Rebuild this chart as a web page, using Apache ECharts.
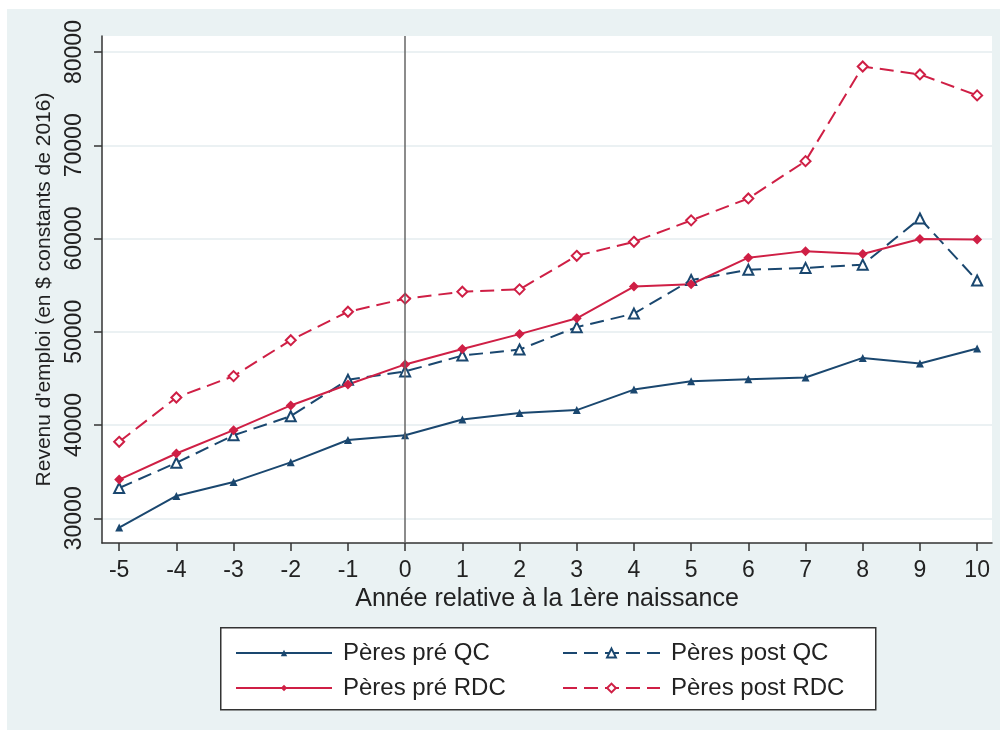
<!DOCTYPE html>
<html>
<head>
<meta charset="utf-8">
<script src="https://cdn.jsdelivr.net/npm/echarts@6/dist/echarts.min.js"></script>
<style>
html,body{margin:0;padding:0;background:#fff;}
#bg{position:absolute;left:7px;top:9px;width:993px;height:721px;background:#eaf2f3;}
#chart{position:absolute;left:0;top:0;width:1006px;height:738px;}
</style>
</head>
<body>
<div id="bg"></div>
<div id="chart"></div>
<script>
// ---- data ----
const years = [-5,-4,-3,-2,-1,0,1,2,3,4,5,6,7,8,9,10];
const xTickValues = [-5,-4,-3,-2,-1,0,1,2,3,4,5,6,7,8,9,10];
const yTickValues = [30000,40000,50000,60000,70000,80000];
const seriesNames = ['Pères pré QC','Pères post QC','Pères pré RDC','Pères post RDC'];
const preQC   = [29000,32400,33900,36000,38400,38900,40600,41300,41600,43800,44700,44900,45100,47200,46600,48200];
const postQC  = [33250,35950,38900,40950,44850,45750,47450,48100,50500,51950,55550,56650,56850,57200,62150,55500];
const preRDC  = [34150,36950,39450,42100,44350,46500,48150,49750,51450,54850,55100,57950,58650,58350,59950,59900];
const postRDC = [38200,42950,45250,49100,52150,53550,54300,54550,58150,59650,61950,64300,68300,78450,77600,75350];
const xTitle = 'Année relative à la 1ère naissance';
const yTitle = "Revenu d'emploi (en $ constants de 2016)";

const NAVY = '#1a476f';
const RED = '#cf1f45';
const DASH = [14, 7];
const FONT = '"Liberation Sans", Arial, sans-serif';
const pairs = arr => years.map((x, i) => [x, arr[i]]);

const chart = echarts.init(document.getElementById('chart'), null, {renderer: 'canvas'});
chart.setOption({
  animation: false,
  backgroundColor: 'transparent',
  textStyle: {fontFamily: FONT},
  grid: {left: 102, top: 36, right: 14, bottom: 195, show: true, backgroundColor: '#ffffff', borderWidth: 0},
  xAxis: {
    type: 'value', min: -5.3, max: 10.26,
    name: xTitle, nameLocation: 'middle', nameGap: 44,
    nameTextStyle: {fontSize: 25, color: '#222', fontFamily: FONT},
    axisLine: {show: true, onZero: false, lineStyle: {color: '#333', width: 1.5}},
    axisTick: {show: true, length: 8, lineStyle: {color: '#333', width: 1.5}, customValues: xTickValues},
    axisLabel: {fontSize: 23, color: '#222', margin: 16, fontFamily: FONT, customValues: xTickValues, formatter: v => String(v)},
    splitLine: {show: false}
  },
  yAxis: {
    type: 'value', min: 27350, max: 81720,
    name: yTitle, nameLocation: 'middle', nameGap: 45, nameRotate: 90,
    nameTextStyle: {fontSize: 21, color: '#222', fontFamily: FONT},
    axisLine: {show: true, onZero: false, lineStyle: {color: '#333', width: 1.5}},
    axisTick: {show: true, length: 8, lineStyle: {color: '#333', width: 1.5}, customValues: yTickValues},
    axisLabel: {fontSize: 23, color: '#222', margin: 16, rotate: 90, fontFamily: FONT, customValues: yTickValues, formatter: v => String(v)},
    splitLine: {show: true, lineStyle: {color: '#e4edef', width: 1.5}}
  },
  legend: [
    {left: 230, top: 636, orient: 'vertical', itemWidth: 96, itemHeight: 8, itemGap: 11,
     selectedMode: false, data: [seriesNames[0], seriesNames[2]],
     textStyle: {fontSize: 24, color: '#222', fontFamily: FONT, padding: [0,0,0,6]}},
    {left: 557, top: 636, orient: 'vertical', itemWidth: 97, itemHeight: 11, itemGap: 11,
     selectedMode: false,
     data: [
       {name: seriesNames[1], itemStyle: {color: NAVY}, lineStyle: {color: NAVY, width: 2, type: DASH}},
       {name: seriesNames[3], itemStyle: {color: RED}, lineStyle: {color: RED, width: 2, type: DASH}}
     ],
     textStyle: {fontSize: 24, color: '#222', fontFamily: FONT, padding: [0,0,0,6]}}
  ],
  graphic: [
    {type: 'rect', left: 220, top: 627, shape: {width: 655, height: 82},
     style: {fill: '#ffffff', stroke: '#333', lineWidth: 1.5}, silent: true}
  ],
  series: [
    {name: seriesNames[0], type: 'line', data: pairs(preQC),
     symbol: 'triangle', symbolSize: 8, showAllSymbol: true,
     lineStyle: {color: NAVY, width: 2}, itemStyle: {color: NAVY},
     markLine: {silent: true, symbol: ['none','none'], label: {show: false},
       lineStyle: {color: '#666', width: 1.5, type: 'solid'}, data: [{xAxis: 0}]}},
    {name: seriesNames[1], type: 'line', data: pairs(postQC),
     symbol: 'emptyTriangle', symbolSize: 10, showAllSymbol: true,
     lineStyle: {color: NAVY, width: 2, type: DASH}, itemStyle: {color: NAVY, borderWidth: 1.5}},
    {name: seriesNames[2], type: 'line', data: pairs(preRDC),
     symbol: 'diamond', symbolSize: 10, showAllSymbol: true,
     lineStyle: {color: RED, width: 2}, itemStyle: {color: RED}},
    {name: seriesNames[3], type: 'line', data: pairs(postRDC),
     symbol: 'emptyDiamond', symbolSize: 10, showAllSymbol: true,
     lineStyle: {color: RED, width: 2, type: DASH}, itemStyle: {color: RED, borderWidth: 1.5}}
  ]
});
</script>
</body>
</html>
